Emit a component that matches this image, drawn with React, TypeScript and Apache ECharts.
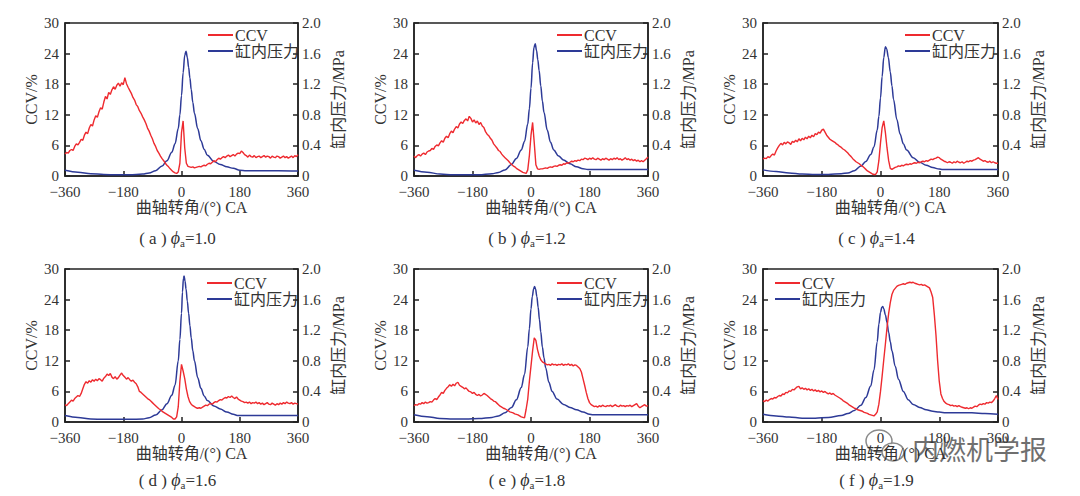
import React, { useEffect, useRef } from "react";
import * as echarts from "echarts";

const FONT = "'Liberation Serif','Times New Roman','Noto Sans CJK SC',serif";
const RED = "#ee2a2f";
const BLUE = "#2d3a97";
const INK = "#333";

// crank angle grid for the CCV curves: -360 ... 360 every 5 degrees (10 values per row)
const ccvStart = -360;
const ccvStep = 5;

// (a) phi_a = 1.0
const ccvA = [
  4.3, 4.6, 4.5, 5.0, 5.2, 5.0, 5.8, 6.3, 6.1, 6.6,
  7.2, 7.0, 8.0, 8.6, 8.3, 9.4, 10.1, 9.8, 11.0, 11.8,
  11.5, 12.6, 13.4, 13.1, 14.5, 15.6, 15.1, 16.4, 16.0, 16.9,
  17.5, 17.0, 17.8, 18.2, 17.6, 18.3, 17.9, 19.3, 18.1, 17.4,
  16.8, 16.2, 15.4, 14.9, 14.0, 13.6, 12.8, 12.3, 11.6, 11.0,
  10.3, 9.4, 8.8, 8.0, 7.3, 6.4, 5.8, 5.0, 4.5, 3.9,
  3.4, 3.0, 2.5, 2.1, 1.8, 1.4, 1.1, 0.8, 0.6, 0.5,
  0.8, 2.5, 8.5, 10.8, 5.5, 2.5, 1.9, 1.8, 1.7, 1.8,
  1.6, 1.7, 1.8, 1.9, 1.8, 2.0, 2.1, 2.0, 2.3, 2.5,
  2.4, 2.7, 3.0, 2.8, 3.2, 3.5, 3.3, 3.6, 3.8, 3.6,
  3.9, 4.1, 3.8, 4.0, 4.2, 3.9, 4.3, 4.5, 4.4, 4.9,
  4.6, 4.2, 4.0, 3.7, 4.1, 3.8, 3.7, 4.0, 3.6, 3.8,
  3.9, 3.6, 3.8, 4.0, 3.7, 3.9, 3.8, 3.5, 3.9, 3.7,
  3.6, 3.9, 3.8, 3.5, 3.7, 3.9, 3.6, 3.8, 3.5, 3.7,
  3.9, 3.6, 4.0, 3.8, 4.2,
];
const pA = [
  [-360, 0.075], [-320, 0.05], [-280, 0.03], [-240, 0.02], [-200, 0.015], [-160, 0.015],
  [-120, 0.025], [-100, 0.04], [-80, 0.07], [-60, 0.13], [-45, 0.2], [-30, 0.31], [-20, 0.42],
  [-10, 0.62], [-5, 0.8], [0, 1.05], [5, 1.35], [10, 1.58], [14, 1.63], [18, 1.55], [22, 1.42],
  [26, 1.28], [30, 1.13], [35, 0.96], [40, 0.82], [50, 0.62], [60, 0.46], [70, 0.35], [80, 0.27],
  [100, 0.19], [120, 0.15], [140, 0.12], [160, 0.1], [180, 0.075], [200, 0.07], [260, 0.07],
  [300, 0.07], [360, 0.065],
];

// (b) phi_a = 1.2
const ccvB = [
  3.9, 3.6, 4.0, 4.2, 3.9, 4.3, 4.5, 4.2, 4.7, 4.9,
  5.0, 5.4, 5.2, 5.8, 6.1, 5.9, 6.5, 6.9, 6.6, 7.4,
  7.8, 7.5, 8.3, 8.8, 8.5, 9.2, 9.7, 9.4, 10.2, 10.6,
  10.3, 10.9, 11.2, 10.8, 11.7, 11.3, 10.6, 11.0, 10.4, 10.8,
  10.1, 10.5, 9.8, 9.5, 8.7, 8.2, 7.9, 7.4, 7.0, 6.3,
  5.9, 5.5, 5.0, 4.8, 4.3, 3.9, 3.6, 3.3, 3.0, 2.6,
  2.3, 2.0, 1.8, 1.5, 1.3, 1.1, 0.9, 0.7, 0.6, 0.5,
  1.2, 4.0, 8.0, 10.5, 6.5, 2.2, 1.4, 1.3, 1.4, 1.4,
  1.5, 1.6, 1.5, 1.7, 1.8, 1.7, 1.9, 2.0, 1.9, 2.1,
  2.2, 2.1, 2.4, 2.3, 2.6, 2.5, 2.7, 2.9, 2.8, 3.0,
  2.9, 3.1, 3.0, 3.3, 3.2, 3.5, 3.4, 3.2, 3.5, 3.3,
  3.6, 3.3, 3.2, 3.5, 3.3, 3.1, 3.4, 3.2, 3.5, 3.3,
  3.1, 3.4, 3.2, 3.5, 3.3, 3.6, 3.2, 3.4, 3.1, 3.3,
  3.6, 3.2, 3.4, 3.1, 3.3, 3.0, 3.2, 2.9, 3.1, 2.8,
  3.0, 2.8, 3.1, 3.4, 3.7,
];
const pB = [
  [-360, 0.075], [-320, 0.05], [-280, 0.025], [-240, 0.015], [-200, 0.015], [-160, 0.015],
  [-120, 0.03], [-100, 0.045], [-80, 0.08], [-60, 0.15], [-45, 0.23], [-30, 0.34], [-20, 0.45],
  [-10, 0.68], [-5, 0.88], [0, 1.15], [5, 1.48], [9, 1.68], [13, 1.73], [17, 1.64], [21, 1.52],
  [25, 1.38], [30, 1.18], [35, 0.98], [40, 0.83], [50, 0.6], [60, 0.44], [70, 0.34], [85, 0.26],
  [100, 0.21], [120, 0.16], [140, 0.12], [160, 0.095], [175, 0.085], [200, 0.085], [300, 0.085],
  [360, 0.085],
];

// (c) phi_a = 1.4
const ccvC = [
  3.3, 3.5, 3.4, 3.8, 3.6, 4.0, 4.3, 4.1, 4.9, 5.5,
  6.0, 6.4, 6.1, 6.6, 6.3, 6.7, 6.5, 6.2, 6.8, 6.6,
  7.0, 6.7, 7.3, 6.9, 7.4, 7.1, 7.6, 7.3, 7.8, 7.5,
  8.0, 7.7, 8.3, 8.1, 8.6, 8.4, 9.0, 9.2, 8.6, 8.0,
  7.6, 7.2, 7.0, 6.8, 6.6, 6.3, 6.1, 5.8, 5.6, 5.3,
  5.1, 4.8, 4.5, 4.1, 3.8, 3.4, 3.1, 2.8, 2.6, 2.4,
  2.1, 1.9, 1.6, 1.3, 1.0, 0.8, 0.6, 0.4, 0.3, 0.3,
  0.8, 3.0, 6.5, 9.5, 10.8, 8.5, 5.5, 3.0, 1.5, 1.3,
  1.5, 1.7, 1.8, 2.0, 1.9, 2.1, 2.0, 2.2, 2.3, 2.2,
  2.4, 2.3, 2.5, 2.6, 2.5, 2.7, 2.6, 2.8, 2.9, 2.8,
  3.0, 2.9, 3.1, 3.3, 3.2, 3.4, 3.5, 3.7, 3.6, 3.3,
  3.1, 2.9, 2.8, 2.6, 2.8, 2.7, 2.5, 2.8, 2.6, 2.9,
  2.7, 2.6, 2.8, 2.5, 2.7, 2.9, 2.8, 3.0, 2.9, 3.1,
  3.2, 3.4, 3.6, 3.3, 3.1, 2.9, 3.0, 2.8, 2.7, 2.9,
  2.6, 2.8, 2.6, 2.5, 2.5,
];
const pC = [
  [-360, 0.08], [-320, 0.06], [-280, 0.04], [-240, 0.025], [-200, 0.02], [-160, 0.02],
  [-120, 0.03], [-100, 0.04], [-80, 0.07], [-60, 0.13], [-45, 0.19], [-30, 0.28], [-20, 0.38],
  [-10, 0.6], [-5, 0.78], [0, 1.02], [5, 1.3], [10, 1.55], [15, 1.69], [19, 1.66], [24, 1.55],
  [30, 1.36], [35, 1.18], [40, 1.0], [50, 0.74], [60, 0.55], [70, 0.42], [80, 0.34], [100, 0.24],
  [120, 0.18], [140, 0.14], [160, 0.11], [180, 0.09], [190, 0.085], [250, 0.085], [360, 0.085],
];

// (d) phi_a = 1.6
const ccvD = [
  3.4, 3.2, 3.6, 3.9, 4.3, 4.1, 4.6, 4.9, 5.2, 5.0,
  5.6, 6.5, 7.4, 7.9, 7.6, 8.1, 7.8, 8.3, 8.0, 8.4,
  8.1, 8.5, 8.3, 8.0, 8.6, 8.9, 9.4, 9.1, 9.5, 8.8,
  8.5, 8.9, 8.4, 8.7, 9.2, 9.6, 9.1, 8.8, 8.4, 8.7,
  8.3, 8.0, 8.2, 7.8, 7.5, 6.9, 6.0, 5.8, 5.5, 5.2,
  4.9, 4.6, 4.4, 4.1, 3.8, 3.5, 3.2, 2.9, 2.6, 2.4,
  2.1, 1.9, 1.7, 1.5, 1.3, 1.1, 0.9, 0.6, 0.6, 1.0,
  3.0, 8.0, 11.3, 10.0, 8.5, 6.5, 5.0, 4.0, 3.5, 3.2,
  3.0, 2.8, 2.7, 2.8, 2.7, 2.9, 3.1, 3.3, 3.2, 3.5,
  3.6, 3.5, 3.8, 4.0, 3.9, 4.2, 4.4, 4.3, 4.6, 4.8,
  4.7, 5.0, 4.8, 5.1, 4.8, 4.6, 4.9, 4.5, 4.3, 4.1,
  4.0, 3.8, 3.9, 3.7, 3.9, 3.6, 3.8, 3.7, 3.9, 3.6,
  3.8, 3.5, 3.7, 3.4, 3.6, 3.8, 3.5, 3.4, 3.7, 3.5,
  3.3, 3.6, 3.4, 3.7, 3.5, 3.8, 3.6, 3.9, 3.7, 3.6,
  3.8, 3.5, 3.7, 3.6, 3.5,
];
const pD = [
  [-360, 0.085], [-320, 0.06], [-280, 0.04], [-240, 0.035], [-200, 0.035], [-160, 0.035],
  [-120, 0.04], [-100, 0.055], [-80, 0.09], [-60, 0.16], [-45, 0.24], [-30, 0.35], [-20, 0.48],
  [-10, 0.8], [-5, 1.08], [0, 1.42], [3, 1.7], [6, 1.88], [8, 1.91], [11, 1.84], [14, 1.74],
  [18, 1.58], [22, 1.42], [26, 1.26], [30, 1.1], [35, 0.93], [40, 0.8], [50, 0.58], [60, 0.44],
  [70, 0.34], [80, 0.28], [100, 0.21], [120, 0.17], [140, 0.13], [160, 0.1], [175, 0.085],
  [200, 0.085], [360, 0.085],
];

// (e) phi_a = 1.8
const ccvE = [
  3.2, 3.4, 3.3, 3.6, 3.5, 3.8, 3.6, 3.9, 3.7, 3.8,
  4.0, 3.9, 4.3, 4.6, 4.4, 4.9, 5.3, 5.8, 5.6, 6.2,
  6.6, 6.9, 7.3, 7.0, 7.4, 7.1, 7.6, 7.8, 7.2, 7.0,
  6.8, 6.5, 6.7, 6.3, 6.0, 5.9, 5.6, 5.8, 5.4, 5.2,
  5.4, 5.1, 5.3, 5.6, 5.4, 5.2, 4.9, 4.6, 4.4, 4.1,
  4.0, 3.7, 3.4, 3.1, 2.9, 2.7, 2.6, 2.4, 2.2, 2.0,
  1.9, 1.8, 1.6, 1.5, 1.4, 1.2, 1.0, 0.9, 0.8, 2.5,
  4.5, 8.0, 11.0, 14.0, 16.5, 16.0, 14.2, 13.0, 12.2, 11.8,
  11.6, 11.4, 11.2, 11.3, 11.1, 11.4, 11.2, 11.3, 11.1, 11.3,
  11.2, 11.4, 11.1, 11.3, 11.2, 11.4, 11.1, 11.3, 11.0, 11.2,
  11.1, 10.8, 10.5, 9.8, 8.5, 7.2, 5.8, 4.6, 3.8, 3.4,
  3.2, 3.0, 3.1, 2.9, 3.2, 3.0, 3.3, 3.1, 3.0, 3.2,
  3.1, 3.3, 3.0, 3.2, 3.4, 3.1, 3.0, 3.3, 3.1, 3.2,
  3.0, 3.2, 3.1, 3.3, 3.0, 3.2, 3.4, 3.6, 3.1, 2.8,
  3.0, 3.2, 3.4, 3.1, 3.2,
];
const pE = [
  [-360, 0.095], [-320, 0.07], [-280, 0.045], [-240, 0.04], [-200, 0.04], [-160, 0.045],
  [-120, 0.06], [-100, 0.08], [-80, 0.12], [-60, 0.19], [-45, 0.29], [-30, 0.45], [-20, 0.62],
  [-10, 0.98], [-5, 1.22], [0, 1.48], [4, 1.64], [8, 1.74], [11, 1.77], [14, 1.74], [18, 1.64],
  [22, 1.5], [26, 1.34], [30, 1.18], [35, 0.98], [40, 0.84], [45, 0.71], [55, 0.52], [65, 0.4],
  [80, 0.3], [100, 0.23], [120, 0.19], [140, 0.16], [160, 0.13], [180, 0.1], [190, 0.095],
  [250, 0.095], [360, 0.095],
];

// (f) phi_a = 1.9
const ccvF = [
  4.2, 4.0, 4.3, 4.1, 4.4, 4.6, 4.5, 4.8, 4.7, 5.0,
  5.2, 5.1, 5.5, 5.4, 5.8, 5.7, 6.1, 6.0, 6.4, 6.3,
  6.6, 6.9, 7.0, 6.5, 6.7, 6.4, 6.6, 6.3, 6.5, 6.2,
  6.4, 6.1, 6.3, 6.0, 6.2, 5.9, 6.1, 5.8, 6.0, 5.7,
  5.5, 5.7, 5.4, 5.6, 5.3, 5.1, 4.9, 4.7, 4.5, 4.2,
  4.0, 3.8, 3.6, 3.3, 3.1, 2.9, 2.7, 2.6, 2.4, 2.3,
  2.2, 2.1, 1.9, 1.8, 1.7, 1.5, 1.4, 1.3, 1.2, 1.5,
  2.0, 3.5, 6.0, 9.0, 12.2, 15.3, 18.5, 21.3, 23.4, 25.0,
  25.8, 26.2, 26.6, 26.8, 26.9, 27.0, 27.1, 27.0, 27.2, 27.3,
  27.4, 27.3, 27.4, 27.2, 27.1, 27.0, 26.9, 27.0, 26.8, 26.9,
  26.7, 26.5, 26.3, 25.5, 24.4, 21.0, 17.0, 12.0, 8.0, 5.5,
  4.6, 4.0, 3.7, 3.5, 3.4, 3.2, 3.3, 3.1, 3.2, 3.0,
  3.2, 3.0, 2.9, 2.8, 2.7, 2.8, 2.6, 2.8, 2.7, 2.9,
  3.1, 3.0, 3.3, 3.5, 3.4, 3.6, 3.5, 3.8, 3.7, 3.9,
  3.8, 4.1, 4.6, 5.2, 4.4,
];
const pF = [
  [-360, 0.1], [-320, 0.08], [-280, 0.065], [-240, 0.05], [-200, 0.05], [-160, 0.06],
  [-120, 0.085], [-100, 0.11], [-80, 0.15], [-60, 0.22], [-45, 0.32], [-30, 0.47], [-20, 0.68],
  [-10, 1.05], [-5, 1.28], [0, 1.43], [4, 1.5], [7, 1.51], [10, 1.48], [15, 1.4], [20, 1.3],
  [25, 1.17], [30, 1.05], [35, 0.93], [45, 0.73], [55, 0.56], [70, 0.4], [85, 0.29], [100, 0.23],
  [120, 0.19], [140, 0.16], [160, 0.14], [180, 0.13], [200, 0.12], [240, 0.12], [280, 0.12],
  [320, 0.11], [360, 0.1],
];

const panelLabels = ["a", "b", "c", "d", "e", "f"];
const phiValues = ["1.0", "1.2", "1.4", "1.6", "1.8", "1.9"];
const ccvSeries = [ccvA, ccvB, ccvC, ccvD, ccvE, ccvF];
const pressureSeries = [pA, pB, pC, pD, pE, pF];

const xTicks = { min: -360, max: 360, interval: 180 };
const ccvTicks = { min: 0, max: 30, interval: 6 };
const pTicks = { min: 0, max: 2, interval: 0.4 };

// layout (px)
const grids = [
  { left: 65, top: 23, width: 233 },
  { left: 414, top: 23, width: 234 },
  { left: 763, top: 23, width: 235 },
  { left: 65, top: 269, width: 233 },
  { left: 414, top: 269, width: 234 },
  { left: 763, top: 269, width: 235 },
];
const GRID_H = 153;
const legendPos = [
  { left: 208, top: 27 },
  { left: 557, top: 27 },
  { left: 905, top: 27 },
  { left: 207, top: 275 },
  { left: 557, top: 275 },
  { left: 775, top: 275 },
];
const captionY = [238, 238, 238, 480, 480, 480];

const fmtX = (v: number) => (v < 0 ? "\u2212" + Math.abs(v) : String(v));
const fmtP = (v: number) => (v === 0 ? "0" : v.toFixed(1));

function buildOption() {
  const labelStyle = { fontFamily: FONT, fontSize: 15, color: INK };
  const nameStyle = { fontFamily: FONT, fontSize: 16, color: INK };
  const tick = { show: true, inside: true, length: 5, lineStyle: { color: "#222", width: 1.5 } };
  const line = { show: true, onZero: false, lineStyle: { color: "#222", width: 1.5 } };
  const grid: any[] = [];
  const xAxis: any[] = [];
  const yAxis: any[] = [];
  const series: any[] = [];
  const legend: any[] = [];
  const graphic: any[] = [];

  grids.forEach((g, i) => {
    grid.push({
      left: g.left,
      top: g.top,
      width: g.width,
      height: GRID_H,
      show: true,
      borderColor: "#222",
      borderWidth: 1.5,
      containLabel: false,
    });
    xAxis.push({
      type: "value",
      gridIndex: i,
      position: "bottom",
      ...xTicks,
      name: "曲轴转角/(°) CA",
      nameLocation: "middle",
      nameGap: 22,
      nameTextStyle: { ...nameStyle, padding: [0, 0, 0, 20] },
      axisLine: line,
      axisTick: tick,
      axisLabel: { ...labelStyle, margin: 8, formatter: fmtX, showMinLabel: true, showMaxLabel: true },
      splitLine: { show: false },
    });
    yAxis.push({
      type: "value",
      gridIndex: i,
      position: "left",
      ...ccvTicks,
      name: "CCV/%",
      nameLocation: "middle",
      nameGap: 26,
      nameTextStyle: nameStyle,
      axisLine: line,
      axisTick: tick,
      axisLabel: { ...labelStyle, margin: 6 },
      splitLine: { show: false },
    });
    yAxis.push({
      type: "value",
      gridIndex: i,
      position: "right",
      ...pTicks,
      name: "缸内压力/MPa",
      nameLocation: "middle",
      nameGap: 32,
      nameTextStyle: nameStyle,
      axisLine: line,
      axisTick: tick,
      axisLabel: { ...labelStyle, margin: 4, formatter: fmtP },
      splitLine: { show: false },
    });
    const ccv = ccvSeries[i].map((v, k) => [ccvStart + ccvStep * k, v]);
    series.push({
      name: "CCV",
      type: "line",
      xAxisIndex: i,
      yAxisIndex: 2 * i,
      data: ccv,
      symbol: "none",
      lineStyle: { color: RED, width: 1.4 },
      itemStyle: { color: RED },
      z: 3,
    });
    series.push({
      name: "缸内压力",
      type: "line",
      xAxisIndex: i,
      yAxisIndex: 2 * i + 1,
      data: pressureSeries[i],
      symbol: "none",
      smooth: 0.35,
      smoothMonotone: "x",
      lineStyle: { color: BLUE, width: 1.5 },
      itemStyle: { color: BLUE },
      z: 2,
    });
    legend.push({
      left: legendPos[i].left,
      top: legendPos[i].top,
      orient: "vertical",
      data: ["CCV", "缸内压力"],
      icon: "rect",
      itemWidth: 25,
      itemHeight: 2,
      itemGap: 0,
      padding: 0,
      selectedMode: false,
      textStyle: { ...nameStyle, lineHeight: 15, padding: [0, 0, 0, -3] },
    });
    const cx = g.left + g.width / 2 - 4;
    graphic.push({
      type: "text",
      x: cx,
      y: captionY[i],
      style: {
        text: `{n|( ${panelLabels[i]} ) }{i|ϕ}{s|a}{n|=${phiValues[i]}}`,
        align: "center",
        verticalAlign: "middle",
        fill: INK,
        rich: {
          n: { fontFamily: FONT, fontSize: 17, fill: INK, lineHeight: 20 },
          i: { fontFamily: FONT, fontSize: 18, fontStyle: "italic", fill: INK, lineHeight: 20 },
          s: { fontFamily: FONT, fontSize: 11, fill: INK, verticalAlign: "bottom", lineHeight: 20 },
        },
      },
    });
  });

  // watermark overlay
  graphic.push({
    type: "group",
    z: 100,
    children: [
      { type: "ellipse", shape: { cx: 879, cy: 441, rx: 13, ry: 11 }, style: { fill: "rgba(255,255,255,0.85)", stroke: "#8a8a8a", lineWidth: 1.5 } },
      { type: "ellipse", shape: { cx: 893, cy: 452, rx: 11, ry: 9 }, style: { fill: "rgba(255,255,255,0.85)", stroke: "#8a8a8a", lineWidth: 1.5 } },
      {
        type: "text",
        x: 912,
        y: 448,
        style: {
          text: "内燃机学报",
          font: "27px 'Noto Sans CJK SC', sans-serif",
          fill: "#6f6f6f",
          stroke: "#ffffff",
          lineWidth: 3,
          verticalAlign: "middle",
        },
      },
    ],
  });

  return {
    animation: false,
    backgroundColor: "#ffffff",
    grid,
    xAxis,
    yAxis,
    series,
    legend,
    graphic,
  };
}

export default function App() {
  const ref = useRef<HTMLDivElement>(null);
  useEffect(() => {
    if (!ref.current) return;
    const chart = echarts.init(ref.current, null, { renderer: "svg" });
    chart.setOption(buildOption() as any);
    return () => chart.dispose();
  }, []);
  return (
    <div
      ref={ref}
      style={{ position: "fixed", left: 0, top: 0, width: 1080, height: 496, background: "#fff" }}
    />
  );
}
